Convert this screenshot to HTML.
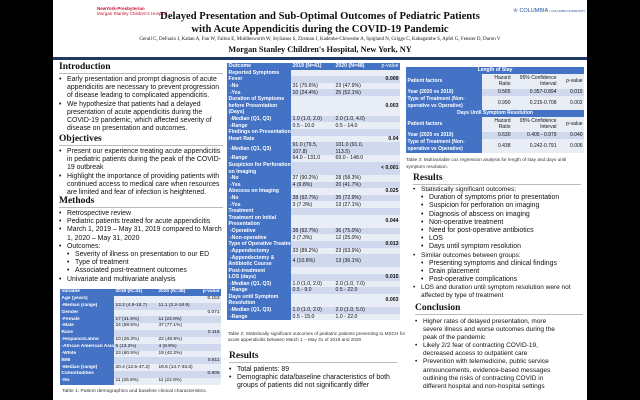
<!DOCTYPE html>
<html><head><meta charset="utf-8"><style>
*{margin:0;padding:0;box-sizing:border-box}
body{width:640px;height:400px;background:#000;position:relative;overflow:hidden;font-family:"Liberation Sans",sans-serif;color:#111}
#p{position:absolute;left:53px;top:0;width:534px;height:400px;background:#fff}
.a{position:absolute}
.h{font-family:"Liberation Serif",serif;font-weight:bold;font-size:9.5px;border-bottom:1px solid #bbb;padding-bottom:1px}
ul{list-style:none;font-size:6.9px;line-height:8.2px}
li{position:relative;padding-left:8px}
li:before{content:"•";position:absolute;left:0}
li li{padding-left:8px}
table{border-collapse:collapse;table-layout:fixed;font-size:5.2px;line-height:6.3px}
td{padding:0 1.5px;vertical-align:middle;white-space:nowrap;overflow:hidden}
td.d{background:#4472c4;color:#fff;font-weight:bold}
tr.l1 td:not(.d){background:#cfd8ec}
tr.l2 td:not(.d){background:#e8edf6}
tr.hd td{background:#4472c4;color:#fff;font-weight:bold}
.pv{text-align:right;font-weight:bold}
.r{text-align:right}
.cap{font-size:5.3px;line-height:6.5px;color:#333}
#t1 tr{height:6.85px}
#t2 tr{height:6.6px}
#t2 tr.x2{height:13.2px}
#t2 tr.x3{height:19.8px}
#t3 tr{height:7px}
#t3 tr.x2{height:14.5px}
</style></head><body><div id="p">
<div class="a" style="left:44px;top:6px;font-size:4.5px;color:#c8102e;font-weight:bold;line-height:5px">NewYork-Presbyterian<br><span style="font-weight:normal">Morgan Stanley Children's Hospital</span></div>
<div class="a" style="left:460px;top:8px;font-size:5.5px;color:#1f4e9c">♔ COLUMBIA <span style="font-size:3px">| COLUMBIA UNIVERSITY</span></div>
<div class="a" style="left:0;width:534px;top:10px;text-align:center;font-family:'Liberation Serif',serif;font-weight:bold;font-size:10.6px;line-height:13px">Delayed Presentation and Sub-Optimal Outcomes of Pediatric Patients<br>with Acute Appendicitis during the COVID-19 Pandemic</div>
<div class="a" style="left:0;width:534px;top:37px;text-align:center;font-family:'Liberation Serif',serif;font-size:5px">Gerall C, DeFazio J, Kahan A, Fan W, Fallon E, Middlesworth W, Stylianos S, Zitsman J, Kadenhe-Chiweshe A, Spigland N, Griggs C, Kabagambe S, Apfel G, Fenster D, Duron V</div>
<div class="a" style="left:0;width:534px;top:45px;text-align:center;font-family:'Liberation Serif',serif;font-weight:bold;font-size:8.3px">Morgan Stanley Children's Hospital, New York, NY</div>
<div class="a" style="left:0;top:57px;width:534px;height:3px;background:#1f3864"></div>

<div class="a h" style="left:6px;top:62px;width:164px">Introduction</div>
<ul class="a" style="left:6px;top:76px;width:166px">
<li>Early presentation and prompt diagnosis of acute appendicitis are necessary to prevent progression of disease leading to complicated appendicitis.</li>
<li>We hypothesize that patients had a delayed presentation of acute appendicitis during the COVID-19 pandemic, which affected severity of disease on presentation and outcomes.</li></ul>
<div class="a h" style="left:6px;top:134px;width:164px">Objectives</div>
<ul class="a" style="left:6px;top:148px;width:166px">
<li>Present our experience treating acute appendicitis in pediatric patients during the peak of the COVID-19 outbreak</li>
<li>Highlight the importance of providing patients with continued access to medical care when resources are limited and fear of infection is heightened.</li></ul>
<div class="a h" style="left:6px;top:196px;width:164px">Methods</div>
<ul class="a" style="left:6px;top:210px;width:166px">
<li>Retrospective review</li>
<li>Pediatric patients treated for acute appendicitis</li>
<li>March 1, 2019 – May 31, 2019 compared to March 1, 2020 – May 31, 2020</li>
<li>Outcomes:<ul><li>Severity of illness on presentation to our ED</li><li>Type of treatment</li><li>Associated post-treatment outcomes</li></ul></li>
<li>Univariate and multivariate analysis</li></ul>

<table id="t1" class="a" style="left:7px;top:289px;width:161px;font-size:4.8px">
<colgroup><col style="width:54px"><col style="width:43px"><col style="width:43px"><col style="width:21px"></colgroup>
<tr class="hd"><td>Variable</td><td>2019 (N=41)</td><td>2020 (N=48)</td><td class="r">p-value</td></tr>
<tr class="l2"><td class="d">Age (years)</td><td></td><td></td><td class="r">0.153</td></tr>
<tr class="l1"><td class="d">-Median (range)</td><td>13.2 (4.9-18.7)</td><td>11.1 (3.2-18.9)</td><td></td></tr>
<tr class="l2"><td class="d">Gender</td><td></td><td></td><td class="r">0.071</td></tr>
<tr class="l1"><td class="d">-Female</td><td>17 (41.5%)</td><td>11 (22.9%)</td><td></td></tr>
<tr class="l2"><td class="d">-Male</td><td>24 (58.5%)</td><td>37 (77.1%)</td><td></td></tr>
<tr class="l1"><td class="d">Race</td><td></td><td></td><td class="r">0.116</td></tr>
<tr class="l2"><td class="d">-Hispanic/Latino</td><td>10 (26.3%)</td><td>22 (48.9%)</td><td></td></tr>
<tr class="l1"><td class="d">-African American Asian</td><td>5 (13.2%)</td><td>4 (8.9%)</td><td></td></tr>
<tr class="l2"><td class="d">-White</td><td>23 (60.5%)</td><td>19 (42.2%)</td><td></td></tr>
<tr class="l1"><td class="d">BMI</td><td></td><td></td><td class="r">0.811</td></tr>
<tr class="l2"><td class="d">-Median (range)</td><td>20.4 (12.5-47.2)</td><td>19.6 (14.7-33.6)</td><td></td></tr>
<tr class="l1"><td class="d">Comorbidities</td><td></td><td></td><td class="r">0.806</td></tr>
<tr class="l2"><td class="d">-No</td><td>11 (26.8%)</td><td>11 (22.9%)</td><td></td></tr>
</table>
<div class="a cap" style="left:9px;top:389px;font-size:4.9px">Table 1: Patient demographics and baseline clinical characteristics.</div>

<table id="t2" class="a" style="left:174px;top:63px;width:173px">
<colgroup><col style="width:64px"><col style="width:43px"><col style="width:43px"><col style="width:23px"></colgroup>
<tr class="hd"><td>Outcome</td><td>2019 (N=41)</td><td>2020 (N=48)</td><td class="r" style="font-weight:normal">p-value</td></tr>
<tr class="l2"><td class="d">Reported Symptoms</td><td></td><td></td><td></td></tr>
<tr class="l1"><td class="d">Fever</td><td></td><td></td><td class="pv">0.009</td></tr>
<tr class="l2"><td class="d">&nbsp;-No</td><td>31 (75.6%)</td><td>23 (47.9%)</td><td></td></tr>
<tr class="l1"><td class="d">&nbsp;-Yes</td><td>10 (24.4%)</td><td>25 (52.1%)</td><td></td></tr>
<tr class="l2 x3"><td class="d">Duration of Symptoms<br>before Presentation<br>(Days)</td><td></td><td></td><td class="pv">0.003</td></tr>
<tr class="l1"><td class="d">&nbsp;-Median (Q1, Q3)</td><td>1.0 (1.0, 2.0)</td><td>2.0 (1.0, 4.0)</td><td></td></tr>
<tr class="l2"><td class="d">&nbsp;-Range</td><td>0.5 - 10.0</td><td>0.5 - 14.0</td><td></td></tr>
<tr class="l1"><td class="d">Findings on Presentation</td><td></td><td></td><td></td></tr>
<tr class="l2"><td class="d">Heart Rate</td><td></td><td></td><td class="pv">0.04</td></tr>
<tr class="l1 x2"><td class="d">&nbsp;-Median (Q1, Q3)</td><td>91.0 (79.5,<br>107.8)</td><td>101.0 (91.0,<br>113.5)</td><td></td></tr>
<tr class="l2"><td class="d">&nbsp;-Range</td><td>64.0 - 131.0</td><td>69.0 - 148.0</td><td></td></tr>
<tr class="l1 x2"><td class="d">Suspicion for Perforation<br>on Imaging</td><td></td><td></td><td class="pv">&lt; 0.001</td></tr>
<tr class="l2"><td class="d">&nbsp;-No</td><td>37 (90.2%)</td><td>28 (58.3%)</td><td></td></tr>
<tr class="l1"><td class="d">&nbsp;-Yes</td><td>4 (9.8%)</td><td>20 (41.7%)</td><td></td></tr>
<tr class="l2"><td class="d">Abscess on Imaging</td><td></td><td></td><td class="pv">0.025</td></tr>
<tr class="l1"><td class="d">&nbsp;-No</td><td>38 (92.7%)</td><td>35 (72.9%)</td><td></td></tr>
<tr class="l2"><td class="d">&nbsp;-Yes</td><td>3 (7.3%)</td><td>13 (27.1%)</td><td></td></tr>
<tr class="l1"><td class="d">Treatment</td><td></td><td></td><td></td></tr>
<tr class="l2 x2"><td class="d">Treatment on Initial<br>Presentation</td><td></td><td></td><td class="pv">0.044</td></tr>
<tr class="l1"><td class="d">&nbsp;-Operative</td><td>38 (92.7%)</td><td>36 (75.0%)</td><td></td></tr>
<tr class="l2"><td class="d">&nbsp;-Non-operative</td><td>3 (7.3%)</td><td>12 (25.0%)</td><td></td></tr>
<tr class="l1"><td class="d">Type of Operative Treatment</td><td></td><td></td><td class="pv">0.013</td></tr>
<tr class="l2"><td class="d">&nbsp;-Appendectomy</td><td>33 (89.2%)</td><td>23 (63.9%)</td><td></td></tr>
<tr class="l1 x2"><td class="d">&nbsp;-Appendectomy &amp;<br>Antibiotic Course</td><td>4 (10.8%)</td><td>13 (36.1%)</td><td></td></tr>
<tr class="l2"><td class="d">Post-treatment</td><td></td><td></td><td></td></tr>
<tr class="l1"><td class="d">LOS (days)</td><td></td><td></td><td class="pv">0.015</td></tr>
<tr class="l2"><td class="d">&nbsp;-Median (Q1, Q3)</td><td>1.0 (1.0, 2.0)</td><td>2.0 (1.0, 7.0)</td><td></td></tr>
<tr class="l1"><td class="d">&nbsp;-Range</td><td>0.5 - 9.0</td><td>0.5 - 22.0</td><td></td></tr>
<tr class="l2 x2"><td class="d">Days until Symptom<br>Resolution</td><td></td><td></td><td class="pv">0.003</td></tr>
<tr class="l1"><td class="d">&nbsp;-Median (Q1, Q3)</td><td>1.0 (1.0, 2.0)</td><td>2.0 (1.0, 5.0)</td><td></td></tr>
<tr class="l2"><td class="d">&nbsp;-Range</td><td>0.5 - 15.0</td><td>1.0 - 22.0</td><td></td></tr>
</table>
<div class="a cap" style="left:175px;top:331px;width:178px;font-size:4.7px;line-height:6px">Table 2: Statistically significant outcomes of pediatric patients presenting to MSCH for acute appendicitis between March 1 – May 31 of 2019 and 2020</div>
<div class="a h" style="left:176px;top:351px;width:168px">Results</div>
<ul class="a" style="left:176px;top:366px;width:170px">
<li>Total patients: 89</li>
<li>Demographic data/baseline characteristics of both groups of patients did not significantly differ</li></ul>

<table id="t3" class="a" style="left:353px;top:67px;width:178px;font-size:5px">
<colgroup><col style="width:76px"><col style="width:30px"><col style="width:46px"><col style="width:26px"></colgroup>
<tr class="hd"><td colspan="4" style="text-align:center">Length of Stay</td></tr>
<tr class="l2 x2"><td class="d">Patient factors</td><td class="r">Hazard<br>Ratio</td><td class="r">95% Confidence<br>Interval</td><td class="r">p-value</td></tr>
<tr class="l1"><td class="d">Year (2020 vs 2019)</td><td class="r">0.565</td><td class="r">0.357-0.894</td><td class="r">0.015</td></tr>
<tr class="l2 x2"><td class="d">Type of Treatment (Non-<br>operative vs Operative)</td><td class="r">0.990</td><td class="r">0.215-0.708</td><td class="r">0.002</td></tr>
<tr class="hd"><td colspan="4" style="text-align:center">Days Until Symptom Resolution</td></tr>
<tr class="l2 x2"><td class="d">Patient factors</td><td class="r">Hazard<br>Ratio</td><td class="r">95% Confidence<br>Interval</td><td class="r">p-value</td></tr>
<tr class="l1"><td class="d">Year (2020 vs 2019)</td><td class="r">0.630</td><td class="r">0.405 - 0.979</td><td class="r">0.040</td></tr>
<tr class="l2 x2"><td class="d">Type of Treatment (Non-<br>operative vs Operative)</td><td class="r">0.438</td><td class="r">0.242-0.791</td><td class="r">0.006</td></tr>
</table>
<div class="a cap" style="left:353px;top:157px;width:180px;font-size:4.7px;line-height:6.5px">Table 3: Multivariable cox regression analysis for length of stay and days until symptom resolution.</div>

<div class="a h" style="left:360px;top:173px;width:168px">Results</div>
<ul class="a" style="left:360px;top:186px;width:172px;font-size:6.5px;line-height:8.1px">
<li>Statistically significant outcomes:<ul><li>Duration of symptoms prior to presentation</li><li>Suspicion for perforation on imaging</li><li>Diagnosis of abscess on imaging</li><li>Non-operative treatment</li><li>Need for post-operative antibiotics</li><li>LOS</li><li>Days until symptom resolution</li></ul></li>
<li>Similar outcomes between groups:<ul><li>Presenting symptoms and clinical findings</li><li>Drain placement</li><li>Post-operative complications</li></ul></li>
<li>LOS and duration until symptom resolution were not affected by type of treatment</li></ul>
<div class="a h" style="left:362px;top:303px;width:168px">Conclusion</div>
<ul class="a" style="left:362px;top:318px;width:140px;font-size:6.5px;line-height:8.1px">
<li>Higher rates of delayed presentation, more severe illness and worse outcomes during the peak of the pandemic</li>
<li>Likely 2/2 fear of contracting COVID-19, decreased access to outpatient care</li>
<li>Prevention with telemedicine, public service announcements, evidence-based messages outlining the risks of contracting COVID in different hospital and non-hospital settings</li></ul>
</div></body></html>
